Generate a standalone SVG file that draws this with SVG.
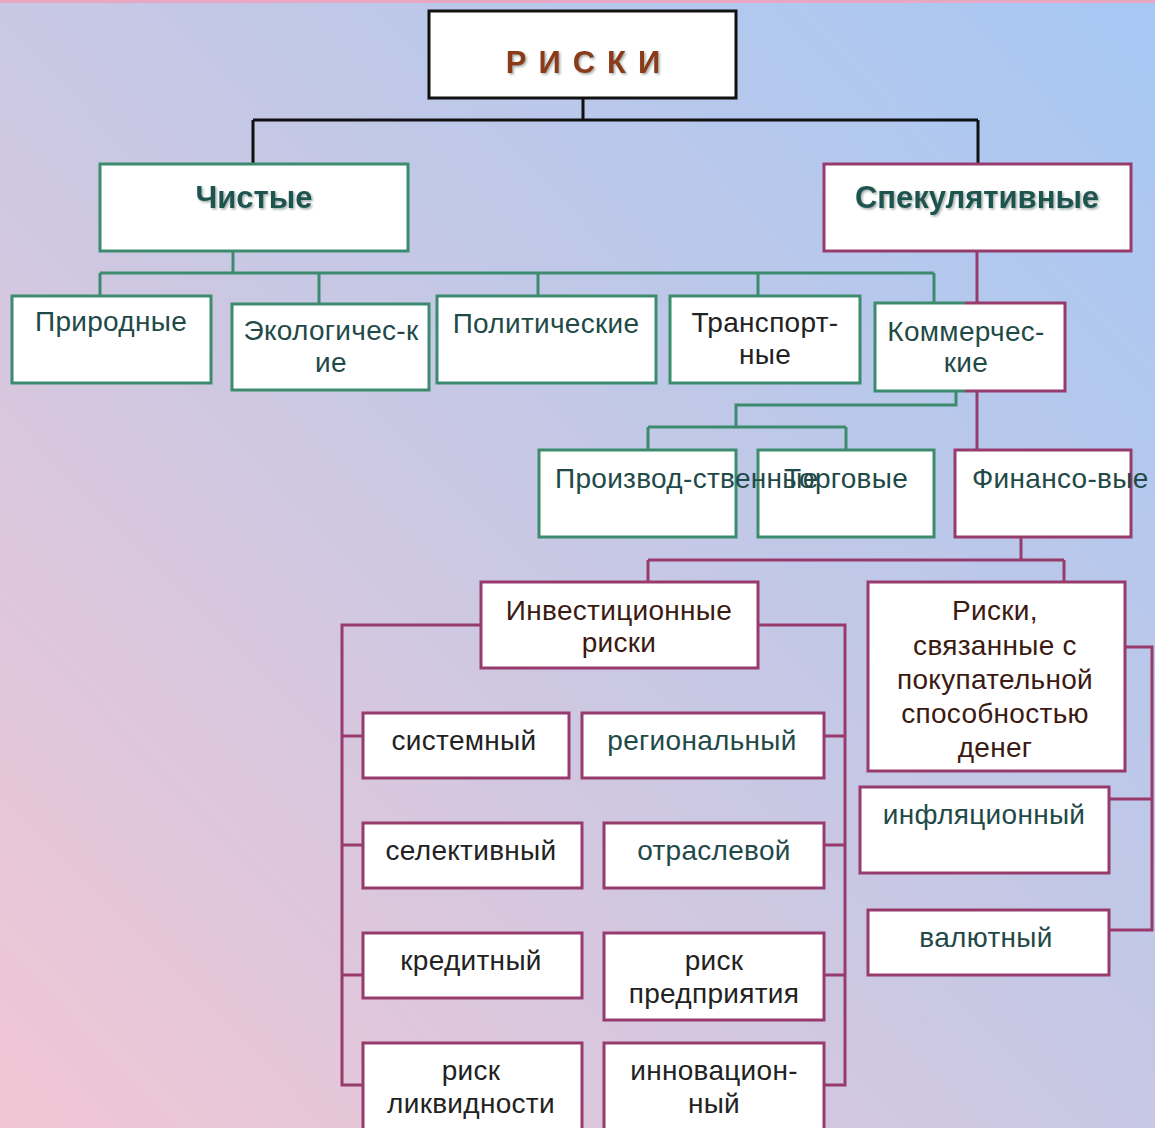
<svg xmlns="http://www.w3.org/2000/svg" width="1155" height="1128" viewBox="0 0 1155 1128">
<defs>
<linearGradient id="bg" x1="0" y1="1128" x2="1155" y2="0" gradientUnits="userSpaceOnUse">
<stop offset="0" stop-color="#f2c6d4"/>
<stop offset="0.5" stop-color="#c8c8e4"/>
<stop offset="1" stop-color="#a6c8f4"/>
</linearGradient>
<filter id="sh" x="-10%" y="-20%" width="120%" height="140%">
<feDropShadow dx="1.5" dy="1.5" stdDeviation="0.8" flood-color="#7a8a88" flood-opacity="0.7"/>
</filter>
</defs>
<style>
.box{fill:#fff;stroke-width:3}
.g{stroke:#3d8b6e}
.p{stroke:#973a6c}
.k{stroke:#111}
.t{font-family:"Liberation Sans",Arial,sans-serif;font-size:28px;text-anchor:middle;letter-spacing:0.3px}
.dk{fill:#222}
.tl{fill:#1f4a48}
.br{fill:#3b1a12}
.h{font-family:"Liberation Sans",Arial,sans-serif;font-size:31px;font-weight:bold;text-anchor:middle;fill:#1f5450}
.line{fill:none;stroke-width:3}
</style>
<rect x="0" y="0" width="1155" height="1128" fill="url(#bg)"/>
<rect x="0" y="0" width="1155" height="3" fill="#e8a8c4"/>

<g id="connectors">
<path class="line k" d="M583,98 V120 M253,120 H978 M253,120 V164 M978,120 V164"/>
<path class="line g" d="M233,251 V273 M100,273 H934 M100,273 V296 M319,273 V304 M538,273 V296 M758,273 V296 M934,273 V303"/>
<path class="line p" d="M977,251 V303 M977,391 V450"/>
<path class="line g" d="M956,391 V405 H736 V427 M648,427 H846 M648,427 V450 M846,427 V450"/>
<path class="line p" d="M1021,537 V560 M648,560 H1064 M648,560 V582 M1064,560 V582"/>
<path class="line p" d="M481,625 H342 V1085 H363 M342,736 H363 M342,845 H363 M342,975 H363"/>
<path class="line p" d="M758,625 H845 V1085 H824 M824,736 H845 M824,845 H845 M824,975 H845"/>
<path class="line p" d="M1125,647 H1152 V930 H1109 M1109,799 H1152"/>
</g>

<g id="riski">
<rect class="box k" x="429" y="11" width="307" height="87"/>
<text x="589" y="73" font-family="'Liberation Sans',Arial,sans-serif" font-size="31" font-weight="bold" fill="#8b3a12" text-anchor="middle" letter-spacing="12" filter="url(#sh)">РИСКИ</text>
</g>
<g id="chistye">
<rect class="box g" x="100" y="164" width="308" height="87"/>
<text class="h" x="254" y="208" font-size="32" filter="url(#sh)">Чистые</text>
</g>
<g id="spekulyativnye">
<rect class="box p" x="824" y="164" width="307" height="87"/>
<text class="h" x="977" y="208" filter="url(#sh)">Спекулятивные</text>
</g>
<g id="prirodnye">
<rect class="box g" x="12" y="296" width="199" height="87"/>
<text class="t tl" x="111" y="331">Природные</text>
</g>
<g id="ekologicheskie">
<rect class="box g" x="232" y="304" width="197" height="86"/>
<text class="t tl" x="331" y="340">Экологичес-к</text>
<text class="t tl" x="331" y="372">ие</text>
</g>
<g id="politicheskie">
<rect class="box g" x="437" y="296" width="219" height="87"/>
<text class="t tl" x="546" y="333">Политические</text>
</g>
<g id="transportnye">
<rect class="box g" x="670" y="296" width="190" height="87"/>
<text class="t dk" x="765" y="332">Транспорт-</text>
<text class="t dk" x="765" y="364">ные</text>
</g>
<g id="kommercheskie">
<rect x="875" y="303" width="190" height="88" fill="#fff"/>
<path class="line g" d="M965,303 H875 V391 H965"/>
<path class="line p" d="M965,303 H1065 V391 H965"/>
<text class="t tl" x="966" y="341">Коммерчес-</text>
<text class="t tl" x="966" y="372">кие</text>
</g>
<g id="proizvodstvennye">
<rect class="box g" x="539" y="450" width="197" height="87"/>
</g>
<g id="torgovye">
<rect class="box g" x="758" y="450" width="176" height="87"/>
<text class="t tl" x="846" y="488">Торговые</text>
</g>
<text class="t tl" x="555" y="488" style="text-anchor:start">Производ-ственные</text>
<g id="finansovye">
<rect class="box p" x="955" y="450" width="176" height="87"/>
<text class="t tl" x="972" y="488" style="text-anchor:start">Финансо-вые</text>
</g>
<g id="investicionnye">
<rect class="box p" x="481" y="582" width="277" height="86"/>
<text class="t br" x="619" y="620">Инвестиционные</text>
<text class="t br" x="619" y="652">риски</text>
</g>
<g id="pokupatelnaya">
<rect class="box p" x="868" y="582" width="257" height="189"/>
<text class="t br" x="995" y="620">Риски,</text>
<text class="t br" x="995" y="655">связанные с</text>
<text class="t br" x="995" y="689">покупательной</text>
<text class="t br" x="995" y="723">способностью</text>
<text class="t br" x="995" y="757">денег</text>
</g>
<g id="sistemnyj">
<rect class="box p" x="363" y="713" width="206" height="65"/>
<text class="t dk" x="464" y="750">системный</text>
</g>
<g id="regionalnyj">
<rect class="box p" x="582" y="713" width="242" height="65"/>
<text class="t tl" x="702" y="750">региональный</text>
</g>
<g id="selektivnyj">
<rect class="box p" x="363" y="823" width="219" height="65"/>
<text class="t dk" x="471" y="860">селективный</text>
</g>
<g id="otraslevoj">
<rect class="box p" x="604" y="823" width="220" height="65"/>
<text class="t tl" x="714" y="860">отраслевой</text>
</g>
<g id="kreditnyj">
<rect class="box p" x="363" y="933" width="219" height="65"/>
<text class="t dk" x="471" y="970">кредитный</text>
</g>
<g id="risk-predpriyatiya">
<rect class="box p" x="604" y="933" width="220" height="87"/>
<text class="t dk" x="714" y="970">риск</text>
<text class="t dk" x="714" y="1003">предприятия</text>
</g>
<g id="risk-likvidnosti">
<rect class="box p" x="363" y="1043" width="219" height="100"/>
<text class="t dk" x="471" y="1080">риск</text>
<text class="t dk" x="471" y="1113">ликвидности</text>
</g>
<g id="innovacionnyj">
<rect class="box p" x="604" y="1043" width="220" height="100"/>
<text class="t dk" x="714" y="1080">инновацион-</text>
<text class="t dk" x="714" y="1113">ный</text>
</g>
<g id="inflyacionnyj">
<rect class="box p" x="860" y="787" width="249" height="86"/>
<text class="t tl" x="984" y="824">инфляционный</text>
</g>
<g id="valyutnyj">
<rect class="box p" x="868" y="910" width="241" height="65"/>
<text class="t tl" x="986" y="947">валютный</text>
</g>
</svg>
